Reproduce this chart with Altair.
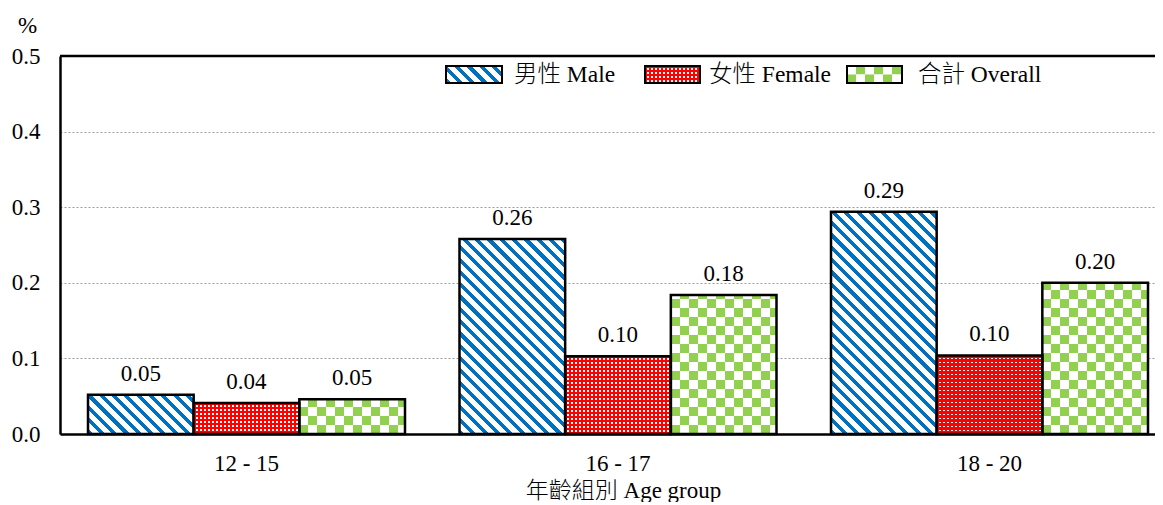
import math
import altair as alt

# ---------------- data ----------------
ages = ["12 - 15", "16 - 17", "18 - 20"]
series = ["男性 Male", "女性 Female", "合計 Overall"]
male_values = [0.052, 0.258, 0.294]
female_values = [0.041, 0.103, 0.104]
overall_values = [0.046, 0.184, 0.200]
male_labels = ["0.05", "0.26", "0.29"]
female_labels = ["0.04", "0.10", "0.10"]
overall_labels = ["0.05", "0.18", "0.20"]
y_ticks = [0.0, 0.1, 0.2, 0.3, 0.4, 0.5]
x_title = "年齡組別 Age group"
y_title = "%"

# ---------------- style ----------------
BLUE = "#0070C0"
RED = "#FF0000"
GREEN = "#92D050"
WHITE = "#FFFFFF"
CLEAR = "rgba(255,0,0,0)"
FONT = "Liberation Serif, Noto Sans CJK TC"

PLOT_W, PLOT_H, Y_MAX = 1095, 378, 0.5
PX_PER_UNIT = PLOT_H / Y_MAX
BAR_W = 317.0 / 3
CHECK = 9.0  # checker square size (px)


def periodic_stops(length, period, frac, c_on, c_off):
    stops = []
    d = 0.0
    while d < length - 1e-9:
        a = round(d / length, 6)
        b = round(min((d + frac * period) / length, 1.0), 6)
        c = round(min((d + period) / length, 1.0), 6)
        stops += [dict(offset=a, color=c_on), dict(offset=b, color=c_on),
                  dict(offset=b, color=c_off), dict(offset=c, color=c_off)]
        d += period
    return stops


def diag_grad(w, h, period=8.7, frac=0.42):
    s = (w + h) / (w * w + h * h)
    length = (w + h) / math.sqrt(2)
    return {"gradient": "linear", "x1": 0, "y1": 1, "x2": s * w, "y2": 1 - s * h,
            "stops": periodic_stops(length, period, frac, BLUE, WHITE)}


def x_grad(w, period, frac, c_on, c_off):
    return {"gradient": "linear", "x1": 0, "y1": 0, "x2": 1, "y2": 0,
            "stops": periodic_stops(w, period, frac, c_on, c_off)}


def y_grad(h, period, frac, c_on, c_off):
    return {"gradient": "linear", "x1": 0, "y1": 0, "x2": 1e-6, "y2": 1,
            "stops": periodic_stops(h, period, frac, c_on, c_off)}


# ---------------- tables ----------------
bars = []
patches = []
all_vals = [male_values, female_values, overall_values]
all_labels = [male_labels, female_labels, overall_labels]
for i, age in enumerate(ages):
    for k, s in enumerate(series):
        v = all_vals[k][i]
        bars.append(dict(age=age, series=s, v=v, label=all_labels[k][i]))
        h = v * PX_PER_UNIT
        if k == 0:
            patches.append(dict(age=age, series=s, y0=0, y1=v, g=diag_grad(BAR_W, h)))
        elif k == 1:
            patches.append(dict(age=age, series=s, y0=0, y1=v,
                                g=x_grad(BAR_W, 4.0, 0.55, RED, WHITE)))
            patches.append(dict(age=age, series=s, y0=0, y1=v,
                                g=y_grad(h, 4.0, 0.55, RED, CLEAR)))
        else:
            step = CHECK / PX_PER_UNIT
            r = 0
            while r * step < v - 1e-9:
                lo = r * step
                hi = min((r + 1) * step, v)
                if r % 2 == 0:
                    g = x_grad(BAR_W, 2 * CHECK, 0.5, GREEN, WHITE)
                else:
                    g = x_grad(BAR_W, 2 * CHECK, 0.5, WHITE, GREEN)
                patches.append(dict(age=age, series=s, y0=lo, y1=hi, g=g))
                r += 1

# ---------------- scales / axes ----------------
xscale = alt.Scale(domain=ages, paddingInner=0.1467, paddingOuter=0.0471, align=0.8)
offscale = alt.Scale(domain=series, paddingInner=0, paddingOuter=0)
yscale = alt.Scale(domain=[0, Y_MAX], nice=False, zero=True)

xaxis = alt.Axis(title=x_title, labelAngle=0, labelFont=FONT, labelFontSize=23,
                 labelBaseline="alphabetic", labelPadding=36, labelColor="black",
                 ticks=False, tickSize=0, domainColor="black", domainWidth=2.5,
                 grid=False, titleFont=FONT, titleFontSize=23, titleFontWeight=300,
                 titleColor="black", titleX=563, titleY=63, titleAlign="center",
                 titleBaseline="alphabetic", labelLimit=400)
yaxis = alt.Axis(title=y_title, values=y_ticks, format=".1f", titleAngle=0,
                 titleX=-33, titleY=-24, titleAlign="center", titleBaseline="alphabetic",
                 titleFont=FONT, titleFontSize=23, titleFontWeight="normal",
                 titleColor="black", labelFont=FONT, labelFontSize=23,
                 labelColor="black", labelPadding=20, ticks=False, tickSize=0,
                 domainColor="black", domainWidth=2.5, grid=True,
                 gridColor="#9a9a9a", gridDash=[2, 2], gridWidth=1)

X = alt.X("age:N", scale=xscale, axis=xaxis, sort=ages)
XO = alt.XOffset("series:N", scale=offscale, sort=series)

patch_layer = alt.Chart(alt.Data(values=patches)).mark_bar(strokeWidth=0).encode(
    x=X, xOffset=XO,
    y=alt.Y("y0:Q", scale=yscale, axis=yaxis),
    y2="y1:Q",
    fill=alt.Fill("g:N", scale=None),
)

outline_layer = alt.Chart(alt.Data(values=bars)).mark_bar(
    fillOpacity=0, stroke="black", strokeWidth=2.5
).encode(
    x=X, xOffset=XO,
    y=alt.Y("v:Q", scale=yscale, axis=yaxis, stack=False),
)

text_layer = alt.Chart(alt.Data(values=bars)).mark_text(
    font=FONT, fontSize=23, baseline="alphabetic", dy=-14, color="black"
).encode(
    x=X, xOffset=XO,
    y=alt.Y("v:Q", scale=yscale, axis=yaxis, stack=False),
    text="label:N",
)

one = alt.Data(values=[{}])
top_rule = alt.Chart(one).mark_rule(color="black", strokeWidth=2.5).encode(
    y=alt.YDatum(0.5, scale=yscale, axis=yaxis)
)


def rect(x1, x2, y1, y2, **kw):
    return alt.Chart(one).mark_rect(**kw).encode(
        x=alt.value(x1), x2=alt.value(x2), y=alt.value(y1), y2=alt.value(y2))


def label(x, y, t):
    return alt.Chart(one).mark_text(
        align="left", baseline="middle", font=FONT, fontSize=23.5, fontWeight=300,
        color="black", text=t
    ).encode(x=alt.value(x), y=alt.value(y))


SW_Y1, SW_Y2 = 10, 27
SW_H = SW_Y2 - SW_Y1
legend = []
# male
mx1, mx2 = 386, 442
legend.append(rect(mx1, mx2, SW_Y1, SW_Y2, fill=diag_grad(mx2 - mx1, SW_H, 8.7, 0.42), strokeWidth=0))
legend.append(rect(mx1, mx2, SW_Y1, SW_Y2, fillOpacity=0, stroke="black", strokeWidth=2))
legend.append(label(454, 19, series[0]))
# female
fx1, fx2 = 585, 640
legend.append(rect(fx1, fx2, SW_Y1, SW_Y2, fill=x_grad(fx2 - fx1, 4.0, 0.55, RED, WHITE), strokeWidth=0))
legend.append(rect(fx1, fx2, SW_Y1, SW_Y2, fill=y_grad(SW_H, 4.0, 0.55, RED, CLEAR), strokeWidth=0))
legend.append(rect(fx1, fx2, SW_Y1, SW_Y2, fillOpacity=0, stroke="black", strokeWidth=2))
legend.append(label(649, 19, series[1]))
# overall
ox1, ox2 = 787, 842
mid = (SW_Y1 + SW_Y2) / 2
legend.append(rect(ox1, ox2, SW_Y1, mid, fill=x_grad(ox2 - ox1, 2 * CHECK, 0.5, WHITE, GREEN), strokeWidth=0))
legend.append(rect(ox1, ox2, mid, SW_Y2, fill=x_grad(ox2 - ox1, 2 * CHECK, 0.5, GREEN, WHITE), strokeWidth=0))
legend.append(rect(ox1, ox2, SW_Y1, SW_Y2, fillOpacity=0, stroke="black", strokeWidth=2))
legend.append(label(858, 19, series[2]))

chart = alt.layer(patch_layer, outline_layer, text_layer, top_rule, *legend).properties(
    width=PLOT_W, height=PLOT_H,
    autosize=alt.AutoSizeParams(type="none"),
    padding={"left": 52, "top": 48, "right": 0, "bottom": 68},
).configure_view(stroke="transparent")

chart.save("out.html", embed_options={"renderer": "svg", "actions": False})
